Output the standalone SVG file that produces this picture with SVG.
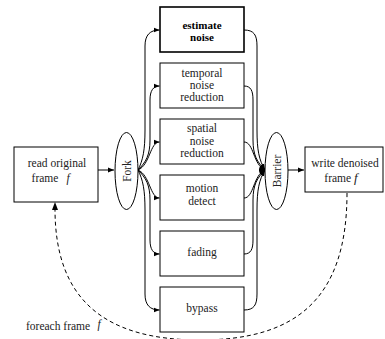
<svg xmlns="http://www.w3.org/2000/svg" width="385" height="339" viewBox="0 0 385 339">
  <style>
    .box { fill: #fff; stroke: #000; stroke-width: 1; }
    .bold { stroke-width: 1.6; }
    .lbl { font-family: "Liberation Serif", "Times New Roman", serif; font-size: 11.5px; fill: #222; text-anchor: middle; }
    .b { font-weight: bold; fill: #000; font-size: 11px; }
    .it { font-style: italic; }
    .edge { fill: none; stroke: #000; stroke-width: 1; }
    .dash { fill: none; stroke: #000; stroke-width: 1; stroke-dasharray: 4 3; }
  </style>
  <defs>
    <marker id="arr" viewBox="0 0 10 10" refX="10" refY="5" markerWidth="6" markerHeight="6" orient="auto" markerUnits="userSpaceOnUse">
      <path d="M0,1 L10,5 L0,9 Z" fill="#000"/>
    </marker>
  </defs>

  <!-- connectors -->
  <g id="connectors">
    <path class="edge" d="M98,170 H114" marker-end="url(#arr)"/>
    <path class="edge" d="M288,170 H304" marker-end="url(#arr)"/>
    <!-- fork fan-out -->
    <path class="edge" d="M138,170 C143,160 145,150 145,130 V46 C145,35 150,30 159.5,30" marker-end="url(#arr)"/>
    <path class="edge" d="M138,170 C146,162 150,155 150,140 V100 C150,91 153,86 159.5,86" marker-end="url(#arr)"/>
    <path class="edge" d="M138,170 C150,165 150,142 159.5,142" marker-end="url(#arr)"/>
    <path class="edge" d="M138,170 C150,175 150,198 159.5,198" marker-end="url(#arr)"/>
    <path class="edge" d="M138,170 C146,178 150,185 150,200 V240 C150,249 153,254 159.5,254" marker-end="url(#arr)"/>
    <path class="edge" d="M138,170 C143,180 145,190 145,210 V294 C145,305 150,310 159.5,310" marker-end="url(#arr)"/>
    <!-- barrier fan-in -->
    <path class="edge" d="M244,30 C254,30 257,35 257,46 V130 C257,150 259,160 265,170" marker-end="url(#arr)"/>
    <path class="edge" d="M244,86 C251,86 253,91 253,100 V140 C253,155 257,162 265,170" marker-end="url(#arr)"/>
    <path class="edge" d="M244,142 C254,142 253,165 265,170" marker-end="url(#arr)"/>
    <path class="edge" d="M244,198 C254,198 253,175 265,170" marker-end="url(#arr)"/>
    <path class="edge" d="M244,254 C251,254 253,249 253,240 V200 C253,185 257,178 265,170" marker-end="url(#arr)"/>
    <path class="edge" d="M244,310 C254,310 257,305 257,294 V210 C257,190 259,180 265,170" marker-end="url(#arr)"/>
    <!-- per-frame loop -->
    <path class="dash" d="M347,193 C347,300 295,340 200,340 C105,340 55,300 55,209"/>
    <path d="M52,210 L55,202 L58,210 Z" fill="#000"/>
  </g>

  <g id="read">
    <rect class="box" x="14" y="147" width="84" height="55"/>
    <text class="lbl" x="57" y="167">read original</text>
    <text class="lbl" x="45" y="182">frame</text>
    <text class="lbl it" x="68" y="182" font-size="13">f</text>
  </g>

  <g id="fork">
    <ellipse class="box" cx="126.5" cy="171" rx="11.5" ry="38.5"/>
    <text class="lbl" transform="translate(130.5,171) rotate(-90)">Fork</text>
  </g>

  <g id="estimate">
    <rect class="box bold" x="160" y="7" width="84" height="45"/>
    <text class="lbl b" x="202" y="28.5">estimate</text>
    <text class="lbl b" x="202" y="40.5">noise</text>
  </g>

  <g id="temporal">
    <rect class="box" x="160" y="63" width="84" height="45"/>
    <text class="lbl" x="202" y="77">temporal</text>
    <text class="lbl" x="202" y="89">noise</text>
    <text class="lbl" x="202" y="101">reduction</text>
  </g>

  <g id="spatial">
    <rect class="box" x="160" y="119" width="84" height="45"/>
    <text class="lbl" x="202" y="132">spatial</text>
    <text class="lbl" x="202" y="145">noise</text>
    <text class="lbl" x="202" y="157">reduction</text>
  </g>

  <g id="motion">
    <rect class="box" x="160" y="175" width="84" height="45"/>
    <text class="lbl" x="202" y="192">motion</text>
    <text class="lbl" x="202" y="204.5">detect</text>
  </g>

  <g id="fading">
    <rect class="box" x="160" y="231" width="84" height="45"/>
    <text class="lbl" x="202" y="256">fading</text>
  </g>

  <g id="bypass">
    <rect class="box" x="160" y="287" width="84" height="45"/>
    <text class="lbl" x="202" y="312">bypass</text>
  </g>

  <g id="barrier">
    <ellipse class="box" cx="276.5" cy="171" rx="11.5" ry="38.5"/>
    <text class="lbl" transform="translate(280.5,171) rotate(-90)">Barrier</text>
  </g>

  <g id="write">
    <rect class="box" x="305" y="147" width="78" height="45"/>
    <text class="lbl" x="345" y="167">write denoised</text>
    <text class="lbl" x="341" y="182">frame <tspan class="it" font-size="13">f</tspan></text>
  </g>

  <g id="loop-label">
    <text class="lbl" x="26" y="330" style="text-anchor:start">foreach frame</text>
    <text class="lbl it" x="99" y="328" font-size="13">f</text>
  </g>
</svg>
